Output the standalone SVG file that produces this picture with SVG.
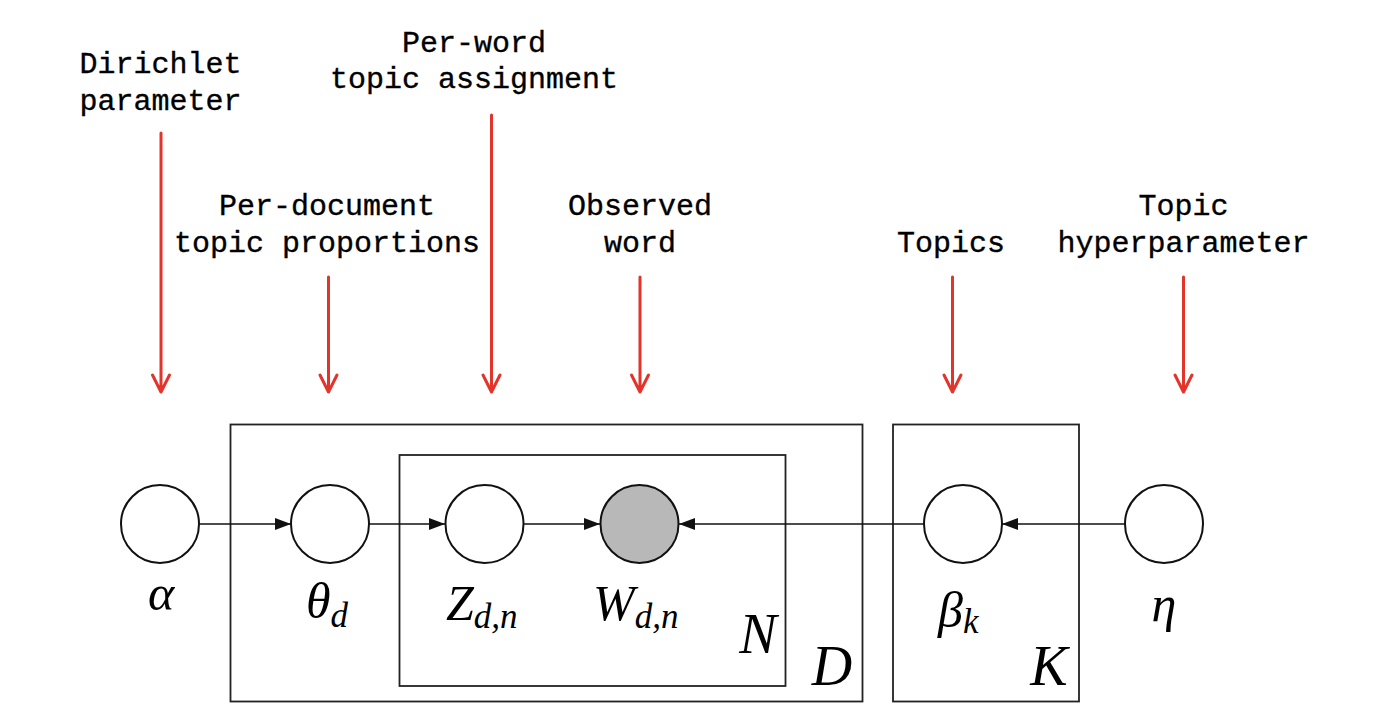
<svg xmlns="http://www.w3.org/2000/svg" width="1378" height="726" viewBox="0 0 1378 726">
<defs>
<style>
.lbl{font-family:"Liberation Mono","Courier New",monospace;font-size:30px;fill:#000;text-anchor:middle;stroke:#000;stroke-width:0.35}
.math{font-family:"Liberation Serif","Times New Roman",serif;font-style:italic;font-size:50px;fill:#000}
.sub{font-size:35px}
.big{font-size:56px}
.plate{fill:none;stroke:#222;stroke-width:1.8}
.node{fill:#fff;stroke:#111;stroke-width:2}
.obs{fill:#b8b8b8;stroke:#111;stroke-width:2}
.edge{stroke:#111;stroke-width:1.6;fill:none}
.red{stroke:#e2342b;stroke-width:3;fill:none;stroke-linecap:round;stroke-linejoin:round}
</style>
<marker id="ah" viewBox="0 0 16 12" refX="16" refY="6" markerWidth="16" markerHeight="12" markerUnits="userSpaceOnUse" orient="auto">
<path d="M0,0 L16,6 L0,12 Z" fill="#111"/>
</marker>
</defs>
<rect width="1378" height="726" fill="#fff"/>

<g id="plates">
<rect id="plate-D" class="plate" x="230.5" y="424.5" width="632" height="277"/>
<rect id="plate-N" class="plate" x="399.5" y="455" width="386" height="231"/>
<rect id="plate-K" class="plate" x="893" y="424.5" width="186" height="277"/>
<text class="math big" x="758" y="653" text-anchor="middle">N</text>
<text class="math big" x="832" y="685" text-anchor="middle">D</text>
<text class="math big" x="1049" y="685" text-anchor="middle">K</text>
</g>

<g id="connectors">
<line class="edge" x1="199" y1="524" x2="291" y2="524" marker-end="url(#ah)"/>
<line class="edge" x1="369" y1="524" x2="445" y2="524" marker-end="url(#ah)"/>
<line class="edge" x1="523" y1="524" x2="600" y2="524" marker-end="url(#ah)"/>
<line class="edge" x1="924" y1="524" x2="679" y2="524" marker-end="url(#ah)"/>
<line class="edge" x1="1125" y1="524" x2="1002" y2="524" marker-end="url(#ah)"/>
</g>

<g id="node-alpha">
<circle class="node" cx="160" cy="524" r="39"/>
<text class="math" x="161" y="610" text-anchor="middle">α</text>
</g>
<g id="node-theta">
<circle class="node" cx="330" cy="524" r="39"/>
<text class="math" x="306" y="618">θ<tspan class="sub" dy="9">d</tspan></text>
</g>
<g id="node-z">
<circle class="node" cx="484.5" cy="524" r="39"/>
<text class="math" x="446" y="620">Z<tspan class="sub" dy="8">d,n</tspan></text>
</g>
<g id="node-w">
<circle class="obs" cx="639.5" cy="524" r="39"/>
<text class="math" x="593" y="620">W<tspan class="sub" dy="8">d,n</tspan></text>
</g>
<g id="node-beta">
<circle class="node" cx="963" cy="524" r="39"/>
<text class="math" x="938" y="627">β<tspan class="sub" dy="6">k</tspan></text>
</g>
<g id="node-eta">
<circle class="node" cx="1164" cy="524" r="39"/>
<text class="math" x="1164" y="621" text-anchor="middle">η</text>
</g>

<g id="annotations">
<text class="lbl" x="160.5" y="73">Dirichlet</text>
<text class="lbl" x="160.5" y="110">parameter</text>
<text class="lbl" x="474" y="52">Per-word</text>
<text class="lbl" x="474" y="88">topic assignment</text>
<text class="lbl" x="327" y="215">Per-document</text>
<text class="lbl" x="327" y="252">topic proportions</text>
<text class="lbl" x="640" y="215">Observed</text>
<text class="lbl" x="640" y="252">word</text>
<text class="lbl" x="951" y="252">Topics</text>
<text class="lbl" x="1183.5" y="215">Topic</text>
<text class="lbl" x="1183.5" y="252">hyperparameter</text>
</g>

<g id="pointers">
<path class="red" d="M161,133 V392 M152.5,375 L161,392 L169.5,375"/>
<path class="red" d="M328.5,277 V392 M320,375 L328.5,392 L337,375"/>
<path class="red" d="M491.5,115 V392 M483,375 L491.5,392 L500,375"/>
<path class="red" d="M640,277 V392 M631.5,375 L640,392 L648.5,375"/>
<path class="red" d="M952.5,277 V392 M944,375 L952.5,392 L961,375"/>
<path class="red" d="M1183.5,277 V392 M1175,375 L1183.5,392 L1192,375"/>
</g>
</svg>
